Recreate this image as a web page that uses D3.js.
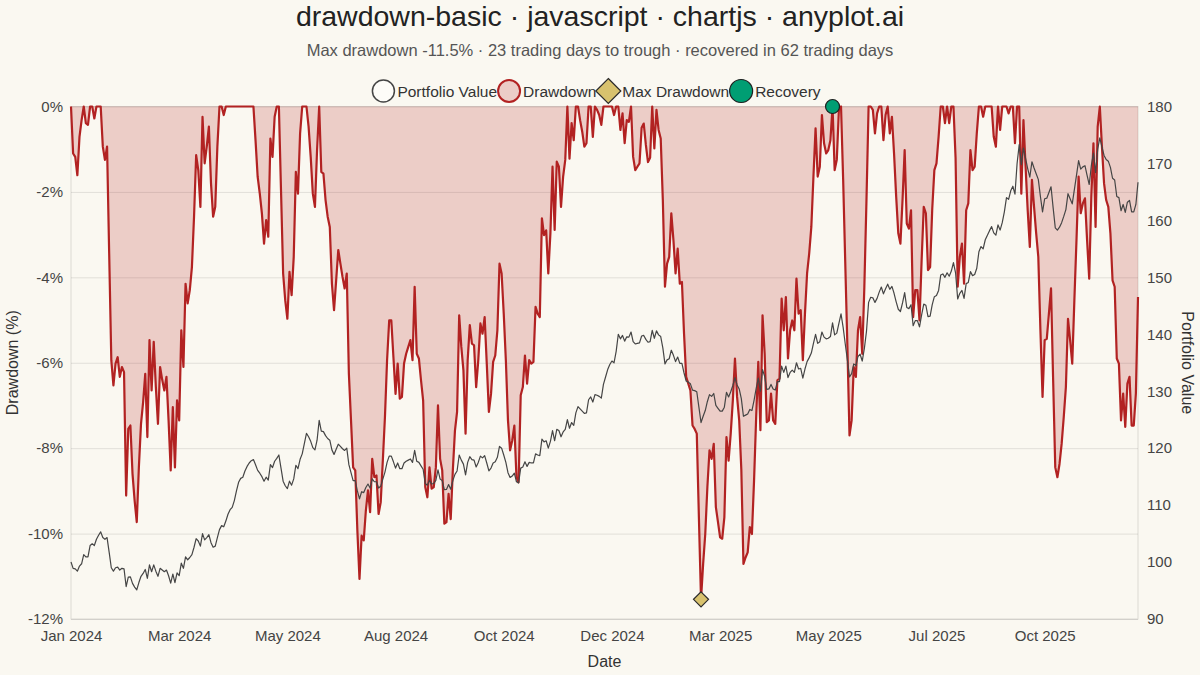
<!DOCTYPE html>
<html><head><meta charset="utf-8">
<script src="https://cdn.jsdelivr.net/npm/d3@7"></script>
<style>
html,body{margin:0;padding:0;background:#FAF8F1;}
svg{display:block;font-family:"Liberation Sans",Arial,Helvetica,sans-serif;}
</style></head><body>
<svg id="chart" width="1200" height="675"></svg>
<script>
// ---------------- data ----------------
const titleText = "drawdown-basic · javascript · chartjs · anyplot.ai";
const subtitleText = "Max drawdown -11.5% · 23 trading days to trough · recovered in 62 trading days";
const legendLabels = ["Portfolio Value", "Drawdown", "Max Drawdown", "Recovery"];
const xTickLabels = ["Jan 2024","Mar 2024","May 2024","Aug 2024","Oct 2024","Dec 2024","Mar 2025","May 2025","Jul 2025","Oct 2025"];
const xTickEvery = 51;
const leftTicks = [-12,-10,-8,-6,-4,-2,0];
const rightTicks = [90,100,110,120,130,140,150,160,170,180];

// drawdown (%) per trading day
const drawdownPct = [
0,-1.10,-1.18,-1.61,-0.71,-0.32,0,-0.39,-0.43,0,
0,-0.28,0,0,0,-0.94,-1.25,-0.94,-3.44,-5.94,
-6.53,-6.02,-5.87,-6.33,-6.10,-6.22,-9.11,-7.55,-7.47,-8.60,
-9.23,-9.73,-8.44,-7.43,-6.92,-6.26,-7.74,-5.47,-6.65,-5.51,
-6.57,-7.43,-6.10,-6.40,-6.65,-6.33,-7.35,-8.52,-7.04,-8.45,
-6.88,-7.35,-5.24,-6.10,-4.15,-4.61,-4.30,-3.76,-2.58,-1.14,
-1.49,-2.35,-0.24,-1.33,-0.94,-0.47,-1.80,-2.58,-2.35,-0.94,
0,0,-0.20,0,0,0,0,0,0,0,
0,0,0,0,0,0,0,-0.80,-1.65,-2.04,
-2.51,-3.21,-2.66,-3.05,-0.75,-1.18,-0.24,0,0,-1.96,
-3.91,-4.54,-4.97,-3.87,-4.42,-3.52,-1.53,-2.04,-0.63,0,
0,0,-0.47,-1.18,-2.04,-2.35,-1.02,0,-1.53,-1.57,
-2.19,-2.58,-2.82,-4.15,-4.77,-4.07,-3.36,-3.68,-3.99,-4.26,
-3.91,-6.26,-7.35,-8.45,-8.52,-9.93,-11.06,-10.05,-10.16,-9.46,
-8.99,-9.50,-8.25,-8.68,-8.64,-9.54,-9.27,-8.29,-7.27,-5.94,
-5.01,-5.01,-5.87,-6.73,-6.02,-6.84,-6.80,-6.02,-5.79,-5.63,
-5.47,-5.94,-4.22,-5.79,-5.90,-6.41,-6.88,-8.91,-9.15,-8.45,
-8.95,-8.91,-8.45,-7.00,-8.25,-8.52,-9.77,-9.73,-9.07,-9.66,
-8.52,-7.59,-7.15,-4.89,-5.63,-6.18,-7.66,-5.94,-5.12,-5.55,
-5.59,-6.57,-5.94,-5.08,-5.32,-4.93,-6.02,-7.15,-6.73,-5.98,
-5.83,-5.24,-3.68,-3.91,-4.85,-5.94,-7.35,-8.05,-7.82,-7.47,
-8.68,-8.80,-6.76,-6.57,-5.83,-6.49,-5.94,-6.02,-5.98,-4.69,
-4.85,-4.93,-2.62,-3.01,-2.90,-3.91,-2.97,-1.41,-2.89,-1.29,
-1.41,-2.35,-1.64,-1.25,0,-1.22,-0.39,-0.79,0,0,
-0.32,-0.59,-0.94,-0.86,0,0,-0.71,0,-0.08,-0.20,
-0.43,0,0,0,0,0,-0.20,0,0,-0.55,
-0.16,-0.86,-0.32,-0.36,0,-1.18,-1.49,-1.41,-1.33,-0.50,
-0.40,-0.90,-1.30,-1.20,0,-0.98,-0.08,-0.55,-0.75,-2.19,
-4.22,-3.68,-3.52,-2.50,-3.13,-3.91,-3.33,-4.15,-4.11,-5.32,
-6.33,-6.49,-6.65,-7.47,-7.55,-7.66,-9.62,-11.54,-10.71,-10.01,
-8.91,-8.05,-8.25,-7.90,-9.38,-9.73,-10.09,-10.12,-9.62,-7.74,
-8.29,-7.66,-6.88,-5.90,-6.80,-7.35,-8.50,-10.71,-10.56,-10.44,
-9.85,-10.01,-8.76,-7.27,-5.98,-7.58,-4.89,-5.79,-7.39,-7.35,
-6.72,-7.35,-7.43,-6.41,-6.37,-4.50,-5.24,-4.46,-5.90,-5.24,
-5.01,-5.24,-4.03,-4.85,-4.77,-5.94,-4.85,-3.91,-3.44,-2.82,
-1.64,-0.51,-1.64,-1.41,-0.20,-0.86,-1.10,-1.02,-0.79,0,
-1.49,-1.25,-0.08,0,-1.70,-3.67,-5.61,-7.70,-7.35,-6.10,
-6.33,-5.24,-4.93,-5.79,-4.22,-2.19,0,0,-0.08,-0.63,
-0.16,0,0,-0.79,-0.20,0,-0.63,-0.24,-1.10,-2.11,
-2.97,-3.21,-2.19,-1.02,-2.74,-2.86,-2.43,-4.93,-4.30,-4.30,
-5.01,-3.60,-2.35,-2.50,-3.83,-3.76,-2.40,-1.49,-1.33,-0.71,
0,0,-0.39,0,-0.39,0,0,-1.20,-4.22,-3.52,
-3.21,-4.15,-2.43,-2.27,-1.02,-1.49,-1.41,-0.63,0,0,
-0.24,0,0,0,0,-0.71,-0.94,0,-0.55,0,
0,0,-0.16,0,0,-0.86,0,0,-2.04,-0.32,
-1.41,-2.43,-3.29,-1.72,-2.35,-2.97,-3.52,-5.24,-6.80,-5.47,
-5.44,-4.85,-4.26,-6.41,-8.45,-8.68,-8.37,-7.90,-7.27,-6.57,
-4.97,-5.47,-6.02,-4.54,-3.13,-1.64,-2.50,-2.27,-2.15,-3.13,
-4.03,-2.11,-0.86,-2.82,-0.47,0,-0.94,-1.80,-2.19,-2.35,
-2.97,-4.07,-4.22,-5.90,-6.02,-7.35,-6.72,-7.50,-6.49,-6.33,
-7.47,-7.47,-6.72,-4.46
];

// portfolio value per trading day
const portfolioValue = [
100.0,98.9,98.8,98.4,99.3,99.7,101.3,100.9,100.9,102.9,
103.2,102.9,104.0,104.7,105.3,104.3,104.0,104.3,101.7,99.0,
98.4,99.0,99.1,98.6,98.9,98.8,95.7,97.35,97.4,96.25,
95.6,95.1,96.4,97.5,98.0,98.7,97.15,99.5,98.3,99.5,
98.4,97.5,98.9,98.6,98.3,98.6,97.6,96.3,97.9,96.4,
98.1,97.6,99.8,98.9,100.9,100.4,100.8,101.3,102.6,104.1,
103.7,102.8,105.0,103.9,104.3,104.8,103.4,102.6,102.8,104.3,
105.7,106.4,106.2,107.2,108.4,109.2,109.6,110.8,112.5,114.0,
114.7,114.9,116.0,116.8,117.4,117.8,118.0,117.1,116.1,115.6,
115.0,114.2,114.9,114.4,117.1,116.6,117.7,118.2,118.8,116.5,
114.2,113.4,112.9,114.2,113.5,114.6,117.0,116.4,118.05,119.0,
120.8,122.6,122.0,121.2,120.1,119.7,121.4,124.9,123.0,122.9,
122.2,121.7,121.4,119.7,118.9,119.8,120.7,120.3,119.9,119.6,
120.0,117.1,115.7,114.3,114.3,112.5,111.1,112.35,112.2,113.1,
113.7,113.0,114.6,114.1,114.1,113.0,113.3,114.55,115.8,117.5,
118.6,118.6,117.6,116.5,117.4,116.4,116.4,117.4,117.7,117.9,
118.1,117.5,119.6,117.7,117.5,116.9,116.3,113.8,113.5,114.35,
113.7,113.8,114.35,116.2,114.6,114.3,112.7,112.75,113.6,112.8,
114.3,115.4,116.0,118.8,117.9,117.2,115.3,117.5,118.5,118.0,
117.9,116.7,117.5,118.6,118.3,118.7,117.4,116.0,116.5,117.4,
117.6,118.4,120.3,120.0,118.8,117.5,115.7,114.85,115.1,115.6,
114.1,113.9,116.5,116.7,117.6,116.8,117.5,117.4,117.4,119.0,
118.8,118.7,121.6,121.1,121.3,120.0,121.2,123.1,121.3,123.3,
123.1,122.0,122.85,123.3,125.0,123.5,124.5,124.0,126.2,127.3,
126.9,126.5,126.1,126.2,128.5,129.0,128.1,129.4,129.3,129.1,
128.8,131.2,132.5,133.8,134.7,135.3,135.0,137.0,140.0,139.2,
139.8,138.8,139.55,139.5,140.4,138.7,138.3,138.4,138.5,139.7,
139.8,139.1,138.6,138.7,140.7,139.3,140.6,139.9,139.6,137.6,
134.8,135.5,135.7,137.2,136.3,135.2,136.0,134.9,134.9,133.2,
131.8,131.6,131.3,130.2,130.1,129.9,127.2,124.5,125.6,126.6,
128.2,129.4,129.1,129.6,127.5,127.0,126.5,126.5,127.2,129.8,
129.0,129.9,131.0,132.4,131.1,130.4,128.7,125.6,125.8,126.0,
126.8,126.6,128.4,130.5,132.3,130.0,133.8,132.6,130.3,130.4,
131.2,130.4,130.2,131.7,131.7,134.4,133.3,134.4,132.4,133.3,
133.7,133.3,135.0,133.9,134.0,132.3,133.9,135.2,135.9,136.7,
138.4,140.0,138.4,138.7,140.4,139.5,139.2,139.3,139.6,142.0,
139.9,140.2,141.9,143.6,141.2,138.3,135.5,132.5,133.1,134.8,
134.5,136.1,136.5,135.3,137.5,140.5,145.6,146.5,146.4,145.6,
146.3,147.4,148.3,147.1,148.0,148.8,147.9,148.4,147.2,145.7,
144.4,144.0,145.5,147.3,144.7,144.5,145.2,141.5,142.4,142.4,
141.3,143.4,145.3,145.1,143.1,143.2,145.2,146.6,146.8,147.7,
150.4,150.6,150.0,150.8,150.2,151.1,152.6,150.8,146.2,147.2,
147.7,146.3,148.9,149.1,151.0,150.3,150.5,151.6,154.5,155.4,
155.0,156.6,157.4,158.2,158.9,157.8,157.4,159.2,158.3,159.6,
161.5,164.0,163.7,165.2,166.0,164.6,170.0,173.3,169.8,172.7,
170.9,169.1,167.6,170.3,169.2,168.2,167.2,164.2,161.5,163.8,
163.9,164.9,165.9,162.2,158.7,158.3,158.8,159.6,160.7,161.9,
164.7,163.8,162.9,165.4,167.9,170.5,169.0,169.4,169.6,167.9,
166.3,169.6,171.8,168.4,172.5,174.5,172.9,171.4,170.7,170.4,
169.3,167.4,167.1,164.2,164.0,161.7,162.8,161.4,163.2,163.5,
161.5,161.5,162.8,166.7
];

// ---------------- styles ----------------
const BG = "#FAF8F1";
const RED = "#B22222";
const RED_FILL = "rgba(178,34,34,0.2)";
const GRAY = "#454545";
const GOLD = "#D8C26E";
const GREEN = "#009E73";
const TEXT = "#333";

// ---------------- build ----------------
const W = 1200, H = 675;
const M = {left: 71, right: 1138, top: 106.5, bottom: 619};
const svg = d3.select("#chart");
svg.append("rect").attr("width", W).attr("height", H).attr("fill", BG);

// trading-day categories (business days from 2024-01-01)
const dates = [];
{
  let d = new Date(2024, 0, 1);
  while (dates.length < drawdownPct.length) {
    const wd = d.getDay();
    if (wd !== 0 && wd !== 6) dates.push(new Date(d));
    d.setDate(d.getDate() + 1);
  }
}
const fmtKey = d3.timeFormat("%Y-%m-%d");
const cats = dates.map(fmtKey);

const x = d3.scalePoint().domain(cats).range([M.left, M.right]);
const yL = d3.scaleLinear().domain([-12, 0]).range([M.bottom, M.top]);
const yR = d3.scaleLinear().domain([90, 180]).range([M.bottom, M.top]);

// grid
const grid = svg.append("g").attr("transform", `translate(${M.left},0)`)
  .call(d3.axisLeft(yL).tickValues(leftTicks).tickSize(-(M.right - M.left)).tickFormat(""));
grid.select(".domain").remove();
grid.selectAll("line").attr("stroke", "#000").attr("stroke-opacity", 0.1).attr("stroke-width", 1);

// border
svg.append("rect").attr("x", M.left).attr("y", M.top)
  .attr("width", M.right - M.left).attr("height", M.bottom - M.top)
  .attr("fill", "none").attr("stroke", "#000").attr("stroke-opacity", 0.12);

// drawdown area + line
const area = d3.area()
  .x((d, i) => x(cats[i]))
  .y0(yL(0))
  .y1(d => yL(d));
svg.append("path").datum(drawdownPct).attr("d", area).attr("fill", RED_FILL);

const ddLine = d3.line().x((d, i) => x(cats[i])).y(d => yL(d));
svg.append("path").datum(drawdownPct).attr("d", ddLine)
  .attr("fill", "none").attr("stroke", RED).attr("stroke-width", 2.2)
  .attr("stroke-linejoin", "round");

// portfolio line
const pvLine = d3.line().x((d, i) => x(cats[i])).y(d => yR(d));
svg.append("path").datum(portfolioValue).attr("d", pvLine)
  .attr("fill", "none").attr("stroke", GRAY).attr("stroke-width", 1.2)
  .attr("stroke-linejoin", "round");

// markers: max drawdown and recovery
const minDD = d3.min(drawdownPct);
const troughIdx = drawdownPct.indexOf(minDD);
let recIdx = troughIdx;
while (recIdx < drawdownPct.length && drawdownPct[recIdx] < 0) recIdx++;

function diamondPath(cx, cy, r) {
  return `M${cx},${cy - r}L${cx + r},${cy}L${cx},${cy + r}L${cx - r},${cy}Z`;
}
svg.append("path")
  .attr("d", diamondPath(x(cats[troughIdx]), yL(minDD), 7.5))
  .attr("fill", GOLD).attr("stroke", "#2a2a2a").attr("stroke-width", 1.2);
if (recIdx < drawdownPct.length) {
  svg.append("circle")
    .attr("cx", x(cats[recIdx])).attr("cy", yL(drawdownPct[recIdx])).attr("r", 7)
    .attr("fill", GREEN).attr("stroke", "#1f1f1f").attr("stroke-width", 1.2);
}

// axes
const tickFont = 15;
const axL = svg.append("g").attr("transform", `translate(${M.left},0)`)
  .call(d3.axisLeft(yL).tickValues(leftTicks).tickSize(0).tickPadding(8).tickFormat(d => d + "%"));
const axR = svg.append("g").attr("transform", `translate(${M.right},0)`)
  .call(d3.axisRight(yR).tickValues(rightTicks).tickSize(0).tickPadding(9).tickFormat(d3.format("d")));
const xTickVals = xTickLabels.map((_, k) => cats[k * xTickEvery]);
const axB = svg.append("g").attr("transform", `translate(0,${M.bottom})`)
  .call(d3.axisBottom(x).tickValues(xTickVals).tickSize(0).tickPadding(11)
    .tickFormat((d, k) => xTickLabels[k]));
[axL, axR, axB].forEach(g => {
  g.select(".domain").remove();
  g.selectAll("text").attr("font-size", tickFont).attr("fill", "#444")
    .attr("font-family", '"Liberation Sans", Arial, sans-serif');
});

// axis titles
svg.append("text").attr("transform", `translate(12,${(M.top + M.bottom) / 2}) rotate(-90)`)
  .attr("text-anchor", "middle").attr("dominant-baseline", "central")
  .attr("font-size", 16).attr("fill", TEXT).text("Drawdown (%)");
svg.append("text").attr("transform", `translate(1187,${(M.top + M.bottom) / 2}) rotate(90)`)
  .attr("text-anchor", "middle").attr("dominant-baseline", "central")
  .attr("font-size", 16).attr("fill", TEXT).text("Portfolio Value");
svg.append("text").attr("x", (M.left + M.right) / 2).attr("y", 661)
  .attr("text-anchor", "middle").attr("dominant-baseline", "central")
  .attr("font-size", 16).attr("fill", TEXT).text("Date");

// title & subtitle
svg.append("text").attr("x", 600).attr("y", 26).attr("text-anchor", "middle")
  .attr("font-size", 28.5).attr("fill", "#222").text(titleText);
svg.append("text").attr("x", 600).attr("y", 56).attr("text-anchor", "middle")
  .attr("font-size", 16.5).attr("fill", "#555").text(subtitleText);

// legend
const legY = 91;
const leg = svg.append("g");
let cursor = 0;
legendLabels.forEach((lab, k) => {
  const g = leg.append("g");
  const cx = cursor + 12;
  const t = g.append("text").attr("x", cx + 14).attr("y", legY)
    .attr("dominant-baseline", "central").attr("font-size", 15.5).attr("fill", TEXT).text(lab);
  if (k === 0) {
    g.append("circle").attr("cx", cx).attr("cy", legY).attr("r", 11)
      .attr("fill", "#fdfcf8").attr("stroke", GRAY).attr("stroke-width", 1.5);
  } else if (k === 1) {
    g.append("circle").attr("cx", cx).attr("cy", legY).attr("r", 11)
      .attr("fill", RED_FILL).attr("stroke", RED).attr("stroke-width", 2);
  } else if (k === 2) {
    g.append("path").attr("d", diamondPath(cx, legY, 12.5))
      .attr("fill", GOLD).attr("stroke", "#2a2a2a").attr("stroke-width", 1.2);
  } else {
    g.append("circle").attr("cx", cx).attr("cy", legY).attr("r", 11.5)
      .attr("fill", GREEN).attr("stroke", "#1f1f1f").attr("stroke-width", 1.2);
  }
  cursor = cx + 14 + t.node().getComputedTextLength();
});
const legW = cursor;
leg.attr("transform", `translate(${596 - legW / 2},0)`);
</script>
</body></html>
